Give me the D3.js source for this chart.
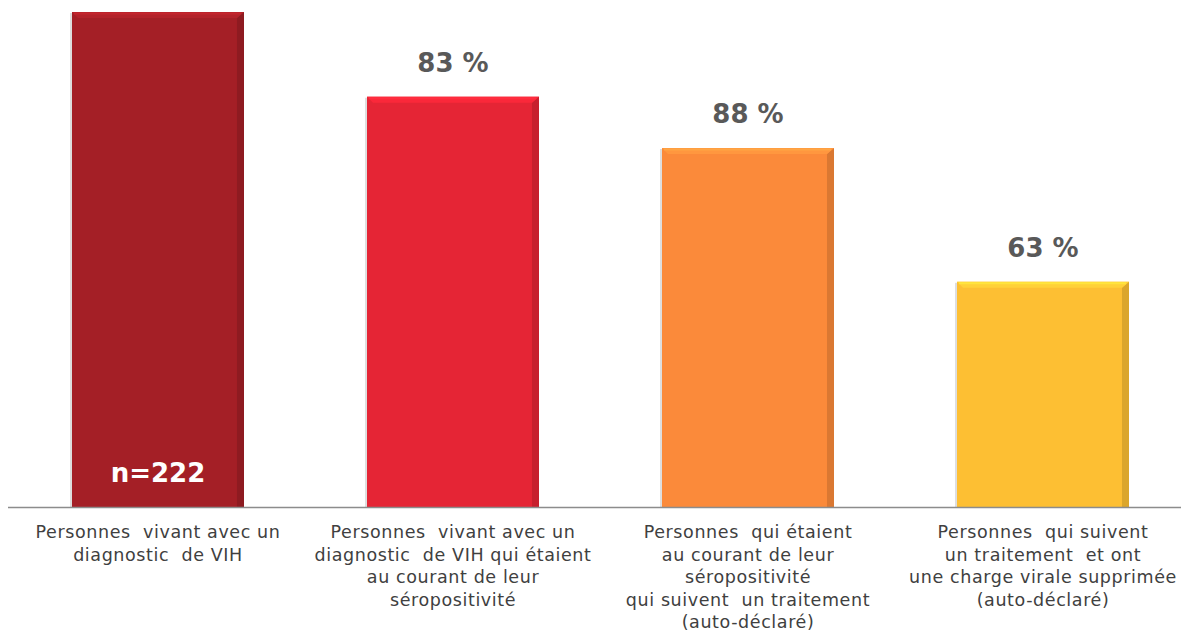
<!DOCTYPE html>
<html><head><meta charset="utf-8">
<script src="https://cdn.jsdelivr.net/npm/d3@7"></script>
<style>
html,body{margin:0;padding:0;background:#fff;}
svg{display:block;}
</style></head>
<body>
<svg id="chart" width="1181" height="634"></svg>
<script>
const categories = [
  ["Personnes  vivant avec un", "diagnostic  de VIH"],
  ["Personnes  vivant avec un", "diagnostic  de VIH qui étaient", "au courant de leur", "séropositivité"],
  ["Personnes  qui étaient", "au courant de leur", "séropositivité", "qui suivent  un traitement", "(auto-déclaré)"],
  ["Personnes  qui suivent", "un traitement  et ont", "une charge virale supprimée", "(auto-déclaré)"]
];
const counts = [222, 184, 161, 101];
const valueLabels = ["n=222", "83 %", "88 %", "63 %"];
const colors = ["#A41F26", "#E52535", "#FB8A3A", "#FDBF33"];

const svg = d3.select("#chart");
const W = 1181, H = 634;
const baseY = 507, topY = 12;

const x = d3.scaleBand().domain(d3.range(categories.length)).range([10.5, 1190.5])
  .paddingInner(0.417).paddingOuter(0.2085);
const y = d3.scaleLinear().domain([0, 222]).range([baseY, topY]);

const font = "'DejaVu Sans', sans-serif";

const g = svg.append("g");
const bars = g.selectAll("g.bar").data(counts).join("g").attr("class","bar");

// left soft shadow
bars.append("rect")
  .attr("x", (d,i)=>x(i)-2).attr("y", d=>y(d)+1)
  .attr("width", 3).attr("height", d=>baseY-y(d)-1)
  .attr("fill", "#c8c8c8").attr("opacity", 0.6);
// main body
bars.append("rect")
  .attr("x", (d,i)=>x(i)).attr("y", d=>y(d))
  .attr("width", x.bandwidth()).attr("height", d=>baseY-y(d))
  .attr("fill", (d,i)=>colors[i]);
// right darker edge
bars.append("path")
  .attr("d", (d,i)=>{
    const x1 = x(i)+x.bandwidth(), t = y(d);
    return `M${x1-7},${t+6} L${x1},${t} L${x1},${baseY} L${x1-7},${baseY} Z`;
  })
  .attr("fill", (d,i)=>d3.color(colors[i]).darker(0.4));
// top highlight
bars.append("path")
  .attr("d", (d,i)=>{
    const x0 = x(i), x1 = x(i)+x.bandwidth(), t = y(d);
    return `M${x0},${t} L${x1},${t} L${x1-7},${t+6} L${x0+6},${t+6} Z`;
  })
  .attr("fill", (d,i)=>d3.color(colors[i]).brighter(0.25));
bars.append("line")
  .attr("x1",(d,i)=>x(i)+2).attr("x2",(d,i)=>x(i)+x.bandwidth()-3)
  .attr("y1", d=>y(d)+1.5).attr("y2", d=>y(d)+1.5)
  .attr("stroke", (d,i)=>d3.color(colors[i]).brighter(0.5)).attr("stroke-width",2);

// baseline axis
g.append("line").attr("x1", 8).attr("x2", W).attr("y1", baseY+0.5).attr("y2", baseY+0.5)
  .attr("stroke", "#8c8c8c").attr("stroke-width", 1.5);

// value labels
g.selectAll("text.val").data(counts).join("text").attr("class","val")
  .attr("x", (d,i)=>x(i)+x.bandwidth()/2)
  .attr("y", (d,i)=> i===0 ? 482 : y(d)-25)
  .attr("text-anchor","middle")
  .attr("font-family", font).attr("font-weight","bold").attr("font-size", 26)
  .attr("fill", (d,i)=> i===0 ? "#ffffff" : "#595959")
  .text((d,i)=>valueLabels[i]);

// category labels
const cat = g.selectAll("text.cat").data(categories).join("text").attr("class","cat")
  .attr("text-anchor","middle")
  .attr("font-family", font).attr("font-size", 17.5).attr("fill", "#404040")
  .attr("letter-spacing", 0.6)
  .attr("transform", (d,i)=>`translate(${x(i)+x.bandwidth()/2},538)`);
cat.selectAll("tspan").data(d=>d).join("tspan")
  .attr("x", 0).attr("dy", (d,j)=> j===0 ? 0 : 22.5)
  .attr("xml:space","preserve")
  .style("white-space","pre")
  .text(d=>d);
</script>
</body></html>
